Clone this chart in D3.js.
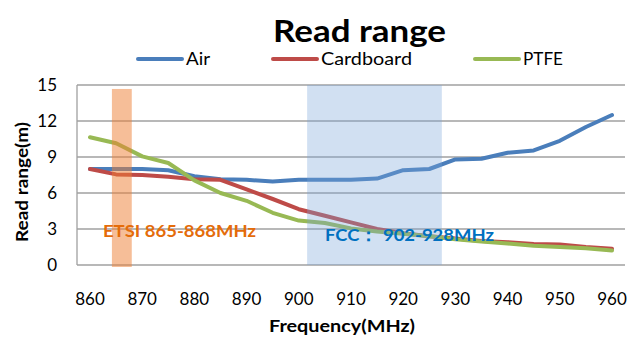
<!DOCTYPE html>
<html><head><meta charset="utf-8">
<script src="https://cdn.jsdelivr.net/npm/d3@7"></script>
<style>html,body{margin:0;padding:0;background:#fff}svg{display:block}</style>
</head><body>
<script>
// ---- data ----
const freqs = [860,865,870,875,880,885,890,895,900,905,910,915,920,925,930,935,940,945,950,955,960];
const air = [8.0,8.0,8.0,7.9,7.4,7.15,7.1,6.95,7.1,7.1,7.1,7.2,7.9,8.0,8.8,8.85,9.35,9.55,10.35,11.5,12.5];
const cardboard = [8.0,7.55,7.5,7.35,7.15,7.1,6.3,5.5,4.65,4.1,3.55,3.0,2.65,2.4,2.2,2.0,1.9,1.75,1.7,1.5,1.35];
const ptfe = [10.65,10.15,9.05,8.5,7.05,6.0,5.35,4.35,3.7,3.5,3.05,2.8,2.6,2.4,2.15,1.95,1.8,1.6,1.5,1.4,1.2];
const seriesNames = ["Air","Cardboard","PTFE"];
const seriesColors = ["#4a7ebb","#be4b48","#98b954"];
const yTicks = [0,3,6,9,12,15];
const xTickLabels = [860,870,880,890,900,910,920,930,940,950,960];
const etsiBand = [864.2, 868, 14.67];
const fccBand = [901.6, 927.4, 15];
const etsiLabel = "ETSI 865-868MHz";
const fccLabel = "FCC： 902-928MHz";

const W = 639, H = 340;
const svg = d3.select("body").append("svg").attr("width", W).attr("height", H);
const FONT = "Lato, 'Open Sans', sans-serif";

const x = d3.scaleLinear().domain([860, 960]).range([90, 612]);
const y = d3.scaleLinear().domain([0, 15]).range([265, 85]);
const plotLeft = 77, plotRight = 625;

// gridlines
svg.append("g").selectAll("line").data(yTicks).join("line")
  .attr("x1", plotLeft).attr("x2", plotRight)
  .attr("y1", d => y(d)).attr("y2", d => y(d))
  .attr("stroke", "#a0a0a0").attr("stroke-width", 1.3);
// y axis line
svg.append("line").attr("x1", plotLeft).attr("x2", plotLeft)
  .attr("y1", y(15)).attr("y2", y(0)).attr("stroke", "#a0a0a0").attr("stroke-width", 1.3);

// y tick labels
svg.append("g").selectAll("text").data(yTicks).join("text")
  .attr("x", 57).attr("y", d => y(d) + 6)
  .attr("text-anchor", "end").attr("font-family", FONT).attr("font-size", 17).attr("fill", "#000")
  .text(d => d);
// x tick labels
svg.append("g").selectAll("text").data(xTickLabels).join("text")
  .attr("x", d => x(d)).attr("y", 305)
  .attr("text-anchor", "middle").attr("font-family", FONT).attr("font-size", 17).attr("fill", "#000")
  .text(d => d);

// lines
const allSeries = [air, cardboard, ptfe];
const line = d3.line().x((d, i) => x(freqs[i])).y(d => y(d));
svg.append("g").selectAll("path").data(allSeries).join("path")
  .attr("d", d => line(d)).attr("fill", "none")
  .attr("stroke", (d, i) => seriesColors[i]).attr("stroke-width", 4)
  .attr("stroke-linejoin", "round").attr("stroke-linecap", "round");

// bands (drawn over lines, translucent)
svg.append("rect").attr("x", x(etsiBand[0])).attr("width", x(etsiBand[1]) - x(etsiBand[0]))
  .attr("y", y(etsiBand[2])).attr("height", y(0) - y(etsiBand[2]) + 2)
  .attr("fill", "#ed7d31").attr("fill-opacity", 0.5);
svg.append("rect").attr("x", x(fccBand[0])).attr("width", x(fccBand[1]) - x(fccBand[0]))
  .attr("y", y(fccBand[2])).attr("height", y(0) - y(fccBand[2]))
  .attr("fill", "#78a4d9").attr("fill-opacity", 0.34);

// annotations
svg.append("text").attr("x", 103).attr("y", 237)
  .attr("font-family", FONT).attr("font-weight", "bold").attr("font-size", 17.5)
  .attr("fill", "#e46c0a").attr("textLength", 153).attr("lengthAdjust", "spacingAndGlyphs")
  .text(etsiLabel);
svg.append("text").attr("x", 325).attr("y", 241)
  .attr("font-family", FONT).attr("font-weight", "bold").attr("font-size", 17.5)
  .attr("fill", "#0070c0").attr("textLength", 169).attr("lengthAdjust", "spacingAndGlyphs")
  .text(fccLabel);

// title
svg.append("text").attr("x", 359.5).attr("y", 42)
  .attr("text-anchor", "middle").attr("font-family", FONT).attr("font-weight", "bold").attr("font-size", 30)
  .attr("textLength", 173).attr("lengthAdjust", "spacingAndGlyphs")
  .text("Read range");

// legend
const legendX = [138, 273, 475];
const legendW = [24, 91, 40];
const lg = svg.append("g");
seriesNames.forEach((n, i) => {
  lg.append("line").attr("x1", legendX[i]).attr("x2", legendX[i] + 44)
    .attr("y1", 59).attr("y2", 59).attr("stroke", seriesColors[i]).attr("stroke-width", 4)
    .attr("stroke-linecap", "round");
  lg.append("text").attr("x", legendX[i] + 48).attr("y", 65)
    .attr("font-family", FONT).attr("font-size", 17).attr("fill", "#000")
    .attr("textLength", legendW[i]).attr("lengthAdjust", "spacingAndGlyphs")
    .text(n);
});

// axis titles
svg.append("text").attr("x", 342).attr("y", 332).attr("text-anchor", "middle")
  .attr("font-family", FONT).attr("font-weight", "bold").attr("font-size", 17)
  .attr("textLength", 146).attr("lengthAdjust", "spacingAndGlyphs")
  .text("Frequency(MHz)");
svg.append("text").attr("transform", "translate(28,182) rotate(-90)").attr("text-anchor", "middle")
  .attr("font-family", FONT).attr("font-weight", "bold").attr("font-size", 17)
  .attr("textLength", 120).attr("lengthAdjust", "spacingAndGlyphs")
  .text("Read range(m)");
</script>
</body></html>
